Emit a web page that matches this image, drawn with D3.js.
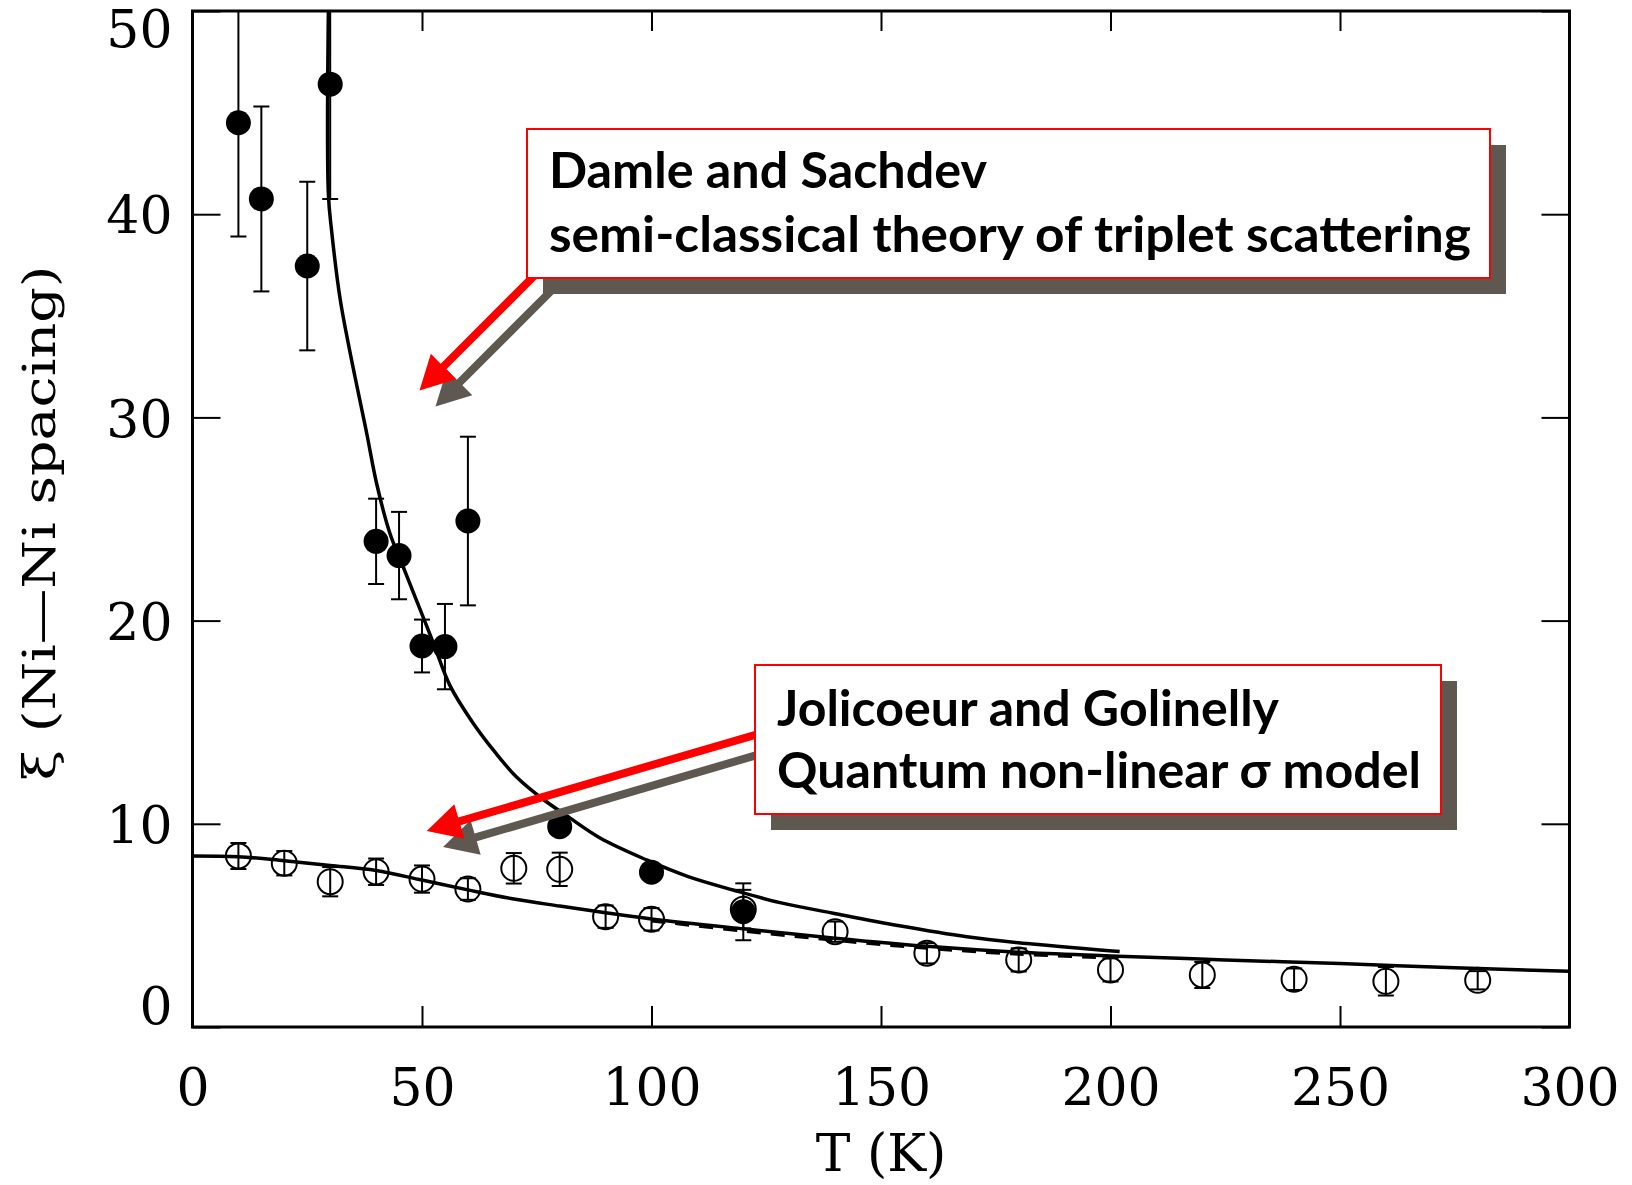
<!DOCTYPE html>
<html>
<head>
<meta charset="utf-8">
<script src="https://cdn.jsdelivr.net/npm/d3@7/dist/d3.min.js"></script>
<style>
  body { margin: 0; background: #fff; }
</style>
</head>
<body>
<div id="grafico"></div>
<script>
// puntos llenos (datos medidos)
var llenosT   = [10, 15, 25, 30, 40, 45, 50, 55, 60, 80, 100, 120];
var llenosXi  = [44.5, 40.75, 37.45, 46.4, 23.9, 23.2, 18.75, 18.72, 24.9, 9.86, 7.62, 5.67];
var llenosErr = [5.6, 4.55, 4.15, 5.65, 2.1, 2.15, 1.3, 2.1, 4.15, 0.3, 0.3, 1.4];

// puntos abiertos
var abiertosT   = [10, 20, 30, 40, 50, 60, 70, 80, 90, 100, 120, 140, 160, 180, 200, 220, 240, 260, 280];
var abiertosXi  = [8.42, 8.06, 7.15, 7.64, 7.28, 6.79, 7.81, 7.76, 5.43, 5.3, 5.8, 4.69, 3.63, 3.3, 2.81, 2.56, 2.35, 2.25, 2.3];
var abiertosErr = [0.64, 0.6, 0.72, 0.65, 0.67, 0.53, 0.75, 0.82, 0.55, 0.55, 0.95, 0.5, 0.5, 0.57, 0.57, 0.64, 0.53, 0.7, 0.45];

// curva Damle y Sachdev
var dsT  = [29.6, 29.6, 30.3, 32.2, 35.4, 37.95, 40.1, 43.0, 45.9, 48.8, 52.5, 56.1, 61, 66, 70.6, 76, 81.5, 88.8, 98.95, 108, 117.8, 128, 139.6, 154, 168.7, 183, 197.7, 202];
var dsXi = [50, 41, 39.2, 35.78, 32.0, 29.22, 26.76, 24.3, 22.65, 21.0, 18.88, 16.8, 15.0, 13.5, 12.3, 11.27, 10.4, 9.3, 8.22, 7.4, 6.74, 6.12, 5.6, 4.98, 4.44, 4.08, 3.79, 3.72];

// curva Jolicoeur y Golinelly
var jgT  = [0, 10, 20, 30, 40, 50, 60, 70, 80, 90, 100, 120, 140, 160, 180, 200, 225, 250, 275, 300];
var jgXi = [8.42, 8.38, 8.18, 7.95, 7.7, 7.23, 6.75, 6.3, 5.95, 5.62, 5.32, 4.83, 4.37, 3.97, 3.68, 3.5, 3.3, 3.12, 2.92, 2.74];

// curva punteada
var punteadaT  = [100, 120, 140, 160, 180, 200];
var punteadaXi = [5.22, 4.72, 4.26, 3.87, 3.58, 3.4];

var ticksX = [0, 50, 100, 150, 200, 250, 300];
var ticksY = [0, 10, 20, 30, 40, 50];

var textoDS = ["Damle and Sachdev", "semi-classical theory of triplet scattering"];
var textoJG = ["Jolicoeur and Golinelly", "Quantum non-linear \u03c3 model"];

var margin = {top: 11, left: 192.5},
    width = 1377,
    height = 1016;

var svg = d3.select("#grafico")
  .append("svg")
    .attr("width", 1632)
    .attr("height", 1185);

var g = svg.append("g").attr("transform", "translate(" + margin.left + "," + margin.top + ")");

var x = d3.scaleLinear().domain([0, 300]).range([0, width]);
var y = d3.scaleLinear().domain([0, 50]).range([height, 0]);

g.append("clipPath").attr("id", "recorte")
  .append("rect").attr("width", width).attr("height", height);

// ejes
var fuenteEje = "'DejaVu Serif', serif";

var ejeAbajo = g.append("g").attr("transform", "translate(0," + height + ")")
  .call(d3.axisBottom(x).tickValues(ticksX).tickSizeInner(-21).tickSizeOuter(0).tickPadding(41));
var ejeArriba = g.append("g")
  .call(d3.axisTop(x).tickValues(ticksX).tickSizeInner(-20).tickSizeOuter(0).tickFormat(""));
var ejeIzq = g.append("g")
  .call(d3.axisLeft(y).tickValues(ticksY).tickSizeInner(-28).tickSizeOuter(0).tickPadding(20));
var ejeDer = g.append("g").attr("transform", "translate(" + width + ",0)")
  .call(d3.axisRight(y).tickValues(ticksY).tickSizeInner(-28).tickSizeOuter(0).tickFormat(""));

[ejeAbajo, ejeArriba, ejeIzq, ejeDer].forEach(function(e){
  e.select(".domain").remove();
  e.selectAll(".tick line").attr("stroke", "#000").attr("stroke-width", 2);
  e.selectAll("text").style("font-family", fuenteEje).style("font-size", "52px").attr("fill", "#000");
});

// las etiquetas de los extremos quedan dentro del marco
ejeIzq.selectAll(".tick text").attr("y", function(d){
  if (d == 50) return 19;
  if (d == 0) return -20;
  return 2;
});

g.append("rect")
  .attr("width", width).attr("height", height)
  .attr("fill", "none").attr("stroke", "#000").attr("stroke-width", 3);

svg.append("text")
  .attr("x", margin.left + width / 2).attr("y", 1171)
  .attr("text-anchor", "middle")
  .style("font-family", fuenteEje).style("font-size", "52px")
  .text("T (K)");

svg.append("text")
  .attr("transform", "translate(55,523) rotate(-90)")
  .attr("text-anchor", "middle")
  .attr("textLength", 515).attr("lengthAdjust", "spacingAndGlyphs")
  .style("font-family", fuenteEje).style("font-size", "44px")
  .text("\u03be (Ni\u2014Ni spacing)");

// curvas
var datos = g.append("g").attr("clip-path", "url(#recorte)");

var linea = d3.line()
  .x(function(d){ return x(d[0]); })
  .y(function(d){ return y(d[1]); })
  .curve(d3.curveCatmullRom.alpha(0.5));

datos.append("path")
  .datum(d3.zip(punteadaT, punteadaXi))
  .attr("d", linea).attr("fill", "none").attr("stroke", "#000").attr("stroke-width", 3)
  .attr("stroke-dasharray", "14 10");
datos.append("path")
  .datum(d3.zip(dsT, dsXi))
  .attr("d", linea).attr("fill", "none").attr("stroke", "#000").attr("stroke-width", 3.5);
datos.append("path")
  .datum(d3.zip(jgT, jgXi))
  .attr("d", linea).attr("fill", "none").attr("stroke", "#000").attr("stroke-width", 3.5);

// barras de error
function barras(ts, xis, errs){
  var pts = d3.zip(ts, xis, errs);
  var b = datos.append("g").attr("stroke", "#000").attr("stroke-width", 2);
  b.selectAll("line.v").data(pts).enter().append("line").attr("class", "v")
    .attr("x1", function(d){ return x(d[0]); }).attr("x2", function(d){ return x(d[0]); })
    .attr("y1", function(d){ return y(d[1] - d[2]); }).attr("y2", function(d){ return y(d[1] + d[2]); });
  b.selectAll("line.a").data(pts).enter().append("line").attr("class", "a")
    .attr("x1", function(d){ return x(d[0]) - 8; }).attr("x2", function(d){ return x(d[0]) + 8; })
    .attr("y1", function(d){ return y(d[1] + d[2]); }).attr("y2", function(d){ return y(d[1] + d[2]); });
  b.selectAll("line.b").data(pts).enter().append("line").attr("class", "b")
    .attr("x1", function(d){ return x(d[0]) - 8; }).attr("x2", function(d){ return x(d[0]) + 8; })
    .attr("y1", function(d){ return y(d[1] - d[2]); }).attr("y2", function(d){ return y(d[1] - d[2]); });
}

barras(abiertosT, abiertosXi, abiertosErr);
barras(llenosT, llenosXi, llenosErr);

datos.selectAll("circle.abierto").data(d3.zip(abiertosT, abiertosXi)).enter()
  .append("circle").attr("class", "abierto")
    .attr("cx", function(d){ return x(d[0]); }).attr("cy", function(d){ return y(d[1]); })
    .attr("r", 12.5).attr("fill", "none").attr("stroke", "#000").attr("stroke-width", 2);

datos.selectAll("circle.lleno").data(d3.zip(llenosT, llenosXi)).enter()
  .append("circle").attr("class", "lleno")
    .attr("cx", function(d){ return x(d[0]); }).attr("cy", function(d){ return y(d[1]); })
    .attr("r", 12.5).attr("fill", "#000");

// flechas y cuadros de anotacion
var sombra = "#5e5850";

function flecha(x0, y0, x1, y1, color){
  var dx = x1 - x0, dy = y1 - y0, l = Math.sqrt(dx*dx + dy*dy);
  var ux = dx / l, uy = dy / l, nx = -uy, ny = ux;
  var cabeza = 34, ancho = 18, medio = 4;
  var bx = x1 - ux * cabeza, by = y1 - uy * cabeza;
  var p = [
    [x0 + nx*medio, y0 + ny*medio],
    [bx + nx*medio, by + ny*medio],
    [bx + nx*ancho, by + ny*ancho],
    [x1, y1],
    [bx - nx*ancho, by - ny*ancho],
    [bx - nx*medio, by - ny*medio],
    [x0 - nx*medio, y0 - ny*medio]
  ];
  svg.append("polygon").attr("points", p.map(function(q){ return q.join(","); }).join(" ")).attr("fill", color);
}

function cuadro(bx, by, bw, bh, lineas, anchos, bases){
  svg.append("rect").attr("x", bx + 16).attr("y", by + 16).attr("width", bw).attr("height", bh).attr("fill", sombra);
  svg.append("rect").attr("x", bx).attr("y", by).attr("width", bw).attr("height", bh)
    .attr("fill", "#fff").attr("stroke", "#ff0000").attr("stroke-width", 2);
  lineas.forEach(function(t, i){
    svg.append("text")
      .attr("x", bx + 22).attr("y", bases[i])
      .attr("textLength", anchos[i]).attr("lengthAdjust", "spacingAndGlyphs")
      .style("font-family", "Lato, 'Open Sans', sans-serif").style("font-weight", "700").style("font-size", "50px")
      .attr("fill", "#000")
      .text(t);
  });
}

flecha(561, 281, 435.5, 406.5, sombra);
flecha(545, 265, 419.5, 390.5, "#ff0000");
cuadro(527, 129, 963, 149, textoDS, [438, 922], [188, 251.5]);

flecha(781, 748, 443, 847, sombra);
flecha(765, 732, 426.7, 831, "#ff0000");
cuadro(755, 665, 686, 149, textoJG, [502, 644], [726, 788]);
</script>
</body>
</html>
